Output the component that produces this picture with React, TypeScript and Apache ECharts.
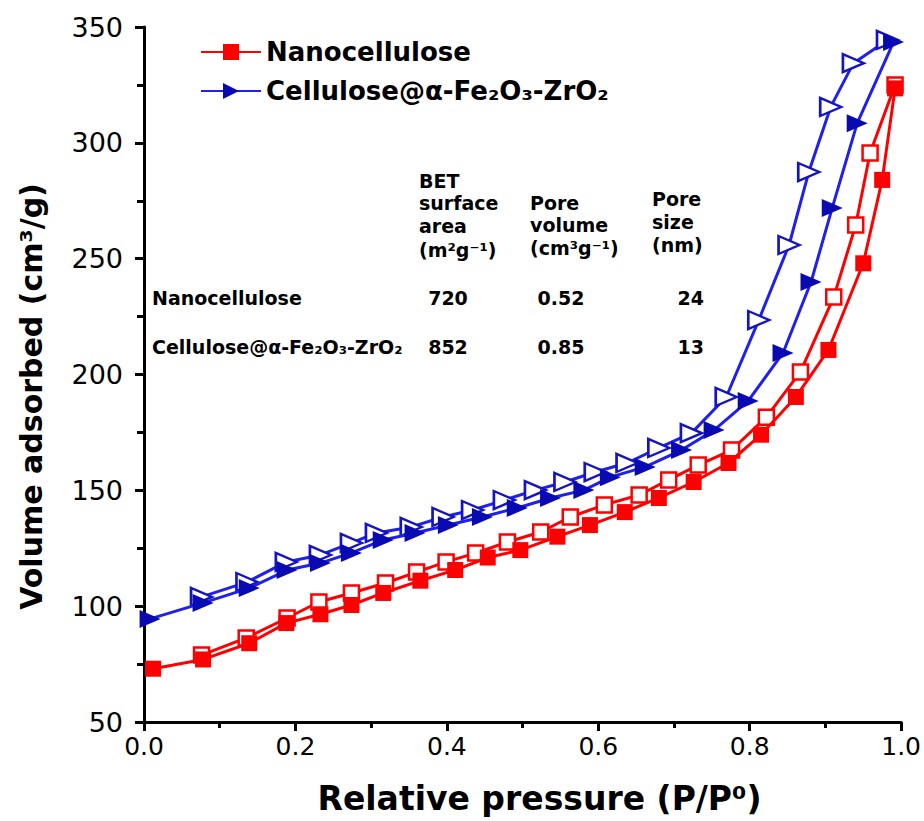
import React, { useEffect, useRef } from "react";
import * as echarts from "echarts";

const NAME_A = "Nanocellulose";
const NAME_B = "Cellulose@α-Fe₂O₃-ZrO₂";

// Nanocellulose adsorption (filled squares)
const redAdsP = [0.012, 0.078, 0.139, 0.188, 0.233, 0.274, 0.316, 0.365, 0.411, 0.454, 0.497, 0.546, 0.589, 0.635, 0.68, 0.726, 0.772, 0.815, 0.861, 0.904, 0.95, 0.975, 0.992];
const redAdsV = [73, 77, 84, 92.7, 96.5, 100.5, 105.7, 111, 115.6, 121, 124.2, 130, 135, 140.6, 146.7, 153.6, 161.8, 174, 190.3, 210.6, 248, 284, 323.5];
// Nanocellulose desorption (open squares)
const redDesP = [0.992, 0.959, 0.94, 0.911, 0.867, 0.822, 0.776, 0.732, 0.693, 0.654, 0.608, 0.563, 0.524, 0.48, 0.438, 0.399, 0.36, 0.319, 0.274, 0.231, 0.189, 0.135, 0.076];
const redDesV = [325, 295.6, 264.5, 233.4, 201.1, 181.6, 167.4, 160.9, 154.5, 148, 143.7, 138.5, 132, 127.7, 122.9, 119.1, 114.7, 110, 105.7, 101.8, 94.9, 86.3, 78.9];
// Cellulose@α-Fe2O3-ZrO2 adsorption (filled triangles)
const blueAdsP = [0.008, 0.078, 0.139, 0.189, 0.233, 0.274, 0.316, 0.358, 0.402, 0.447, 0.493, 0.537, 0.581, 0.616, 0.662, 0.71, 0.753, 0.798, 0.844, 0.881, 0.909, 0.942, 0.99];
const blueAdsV = [94.5, 101.4, 107.8, 115.6, 118.6, 123, 128.6, 131.6, 135, 138.5, 142.4, 146.7, 150.1, 155.7, 160.1, 167.4, 176, 188.6, 209.3, 239.9, 271.9, 308.5, 343.5];
// Cellulose@α-Fe2O3-ZrO2 desorption (open triangles)
const blueDesP = [0.982, 0.937, 0.907, 0.878, 0.852, 0.812, 0.769, 0.723, 0.68, 0.638, 0.596, 0.556, 0.517, 0.476, 0.434, 0.395, 0.353, 0.307, 0.274, 0.233, 0.188, 0.136, 0.076];
const blueDesV = [344.4, 334.4, 315.5, 287.4, 255.9, 223.5, 190.3, 174.7, 168.3, 161.8, 157.9, 153.6, 150.1, 145.8, 141.5, 138.5, 134.2, 131.6, 127.3, 122.1, 119.1, 110.4, 104];

// Inset table
const tableHeaders = [
  ["BET", "surface", "area", "(m²g⁻¹)"],
  ["Pore", "volume", "(cm³g⁻¹)"],
  ["Pore", "size", "(nm)"],
];
const tableRows = [NAME_A, NAME_B];
const tableArea = ["720", "852"];
const tableVolume = ["0.52", "0.85"];
const tableSize = ["24", "13"];

const RED = "#ff0000";
const BLUE_LINE = "#1f1fee";
const BLUE_FILL = "#0a0ab2";
const FONT = '"DejaVu Sans", sans-serif';

const zip = (a: number[], b: number[]) => a.map((v, i) => [v, b[i]]);

export default function App() {
  const ref = useRef<HTMLDivElement>(null);
  useEffect(() => {
    document.body.style.margin = "0";
    const chart = echarts.init(ref.current!, null, { renderer: "svg" });

    const tf = (w: string, s: number) => `${w} ${s}px ${FONT}`;
    const txt = (text: string, x: number, y: number, align = "left", size = 19) => ({
      type: "text",
      x,
      y,
      silent: true,
      style: {
        text,
        font: tf("bold", size),
        fill: "#000",
        textAlign: align,
        textVerticalAlign: "middle",
        align,
        verticalAlign: "middle",
      },
    });

    const headerX = [419, 530, 652];
    const headerY = [
      [181, 203, 226, 250],
      [203, 225, 248],
      [199, 222, 245],
    ];
    const graphics: any[] = [];
    tableHeaders.forEach((col, ci) =>
      col.forEach((t, li) => graphics.push(txt(t, headerX[ci], headerY[ci][li])))
    );
    const rowY = [298, 347];
    tableRows.forEach((r, ri) => {
      graphics.push(txt(r, 152, rowY[ri]));
      graphics.push(txt(tableArea[ri], 448, rowY[ri], "center"));
      graphics.push(txt(tableVolume[ri], 561, rowY[ri], "center"));
      graphics.push(txt(tableSize[ri], 704, rowY[ri], "right"));
    });

    const lineBase = { type: "line", showSymbol: true };

    chart.setOption({
      animation: false,
      backgroundColor: "#fff",
      textStyle: { fontFamily: FONT },
      grid: { left: 144, right: 18, top: 27, bottom: 99, containLabel: false },
      legend: {
        data: [NAME_A, NAME_B],
        orient: "vertical",
        left: 195,
        top: 34,
        itemWidth: 60,
        itemHeight: 20,
        itemGap: 13,
        textStyle: { fontSize: 26, fontWeight: "bold", color: "#000", fontFamily: FONT },
      },
      xAxis: {
        type: "value",
        min: 0,
        max: 1,
        interval: 0.2,
        name: "Relative pressure (P/P⁰)",
        nameLocation: "middle",
        nameGap: 60,
        nameTextStyle: { fontSize: 33, fontWeight: "bold", color: "#000", fontFamily: FONT, padding: [0, 0, 0, 34] },
        axisLine: { show: true, lineStyle: { color: "#000", width: 3 } },
        axisTick: { show: true, inside: false, length: 9, lineStyle: { color: "#000", width: 3 } },
        minorTick: { show: true, splitNumber: 2, length: 6, lineStyle: { color: "#000", width: 3 } },
        axisLabel: { fontSize: 25, color: "#000", margin: 12, formatter: (v: number) => v.toFixed(1), fontFamily: FONT },
        splitLine: { show: false },
        minorSplitLine: { show: false },
      },
      yAxis: {
        type: "value",
        min: 50,
        max: 350,
        interval: 50,
        name: "Volume adsorbed (cm³/g)",
        nameLocation: "middle",
        nameRotate: 90,
        nameGap: 98,
        nameTextStyle: { fontSize: 30, fontWeight: "bold", color: "#000", fontFamily: FONT, padding: [0, 44, 0, 0] },
        axisLine: { show: true, lineStyle: { color: "#000", width: 3 } },
        axisTick: { show: true, inside: false, length: 9, lineStyle: { color: "#000", width: 3 } },
        minorTick: { show: true, splitNumber: 2, length: 7, lineStyle: { color: "#000", width: 3 } },
        axisLabel: { fontSize: 27, color: "#000", margin: 21, fontFamily: FONT },
        splitLine: { show: false },
        minorSplitLine: { show: false },
      },
      graphic: graphics,
      series: [
        {
          ...lineBase,
          name: NAME_A,
          z: 4,
          data: zip(redAdsP, redAdsV),
          symbol: "rect",
          symbolSize: 16,
          lineStyle: { color: RED, width: 3 },
          itemStyle: { color: RED, borderColor: RED, borderWidth: 0 },
        },
        {
          ...lineBase,
          name: NAME_B,
          z: 4,
          data: zip(blueAdsP, blueAdsV),
          symbol: "triangle",
          symbolRotate: -90,
          symbolSize: [18, 21],
          lineStyle: { color: BLUE_LINE, width: 3 },
          itemStyle: { color: BLUE_FILL, borderColor: BLUE_FILL, borderWidth: 0 },
        },
        {
          ...lineBase,
          name: NAME_A + " desorption",
          z: 3,
          data: zip(redDesP, redDesV),
          symbol: "rect",
          symbolSize: 15,
          lineStyle: { color: RED, width: 3 },
          itemStyle: { color: "#fff", borderColor: RED, borderWidth: 2.5 },
        },
        {
          ...lineBase,
          name: NAME_B + " desorption",
          z: 3,
          data: zip(blueDesP, blueDesV),
          symbol: "triangle",
          symbolRotate: -90,
          symbolSize: [18, 21],
          lineStyle: { color: BLUE_LINE, width: 3 },
          itemStyle: { color: "#fff", borderColor: "#1414c4", borderWidth: 2.5 },
        },
      ],
    });
    return () => chart.dispose();
  }, []);
  return <div ref={ref} style={{ width: 924, height: 821 }} />;
}
